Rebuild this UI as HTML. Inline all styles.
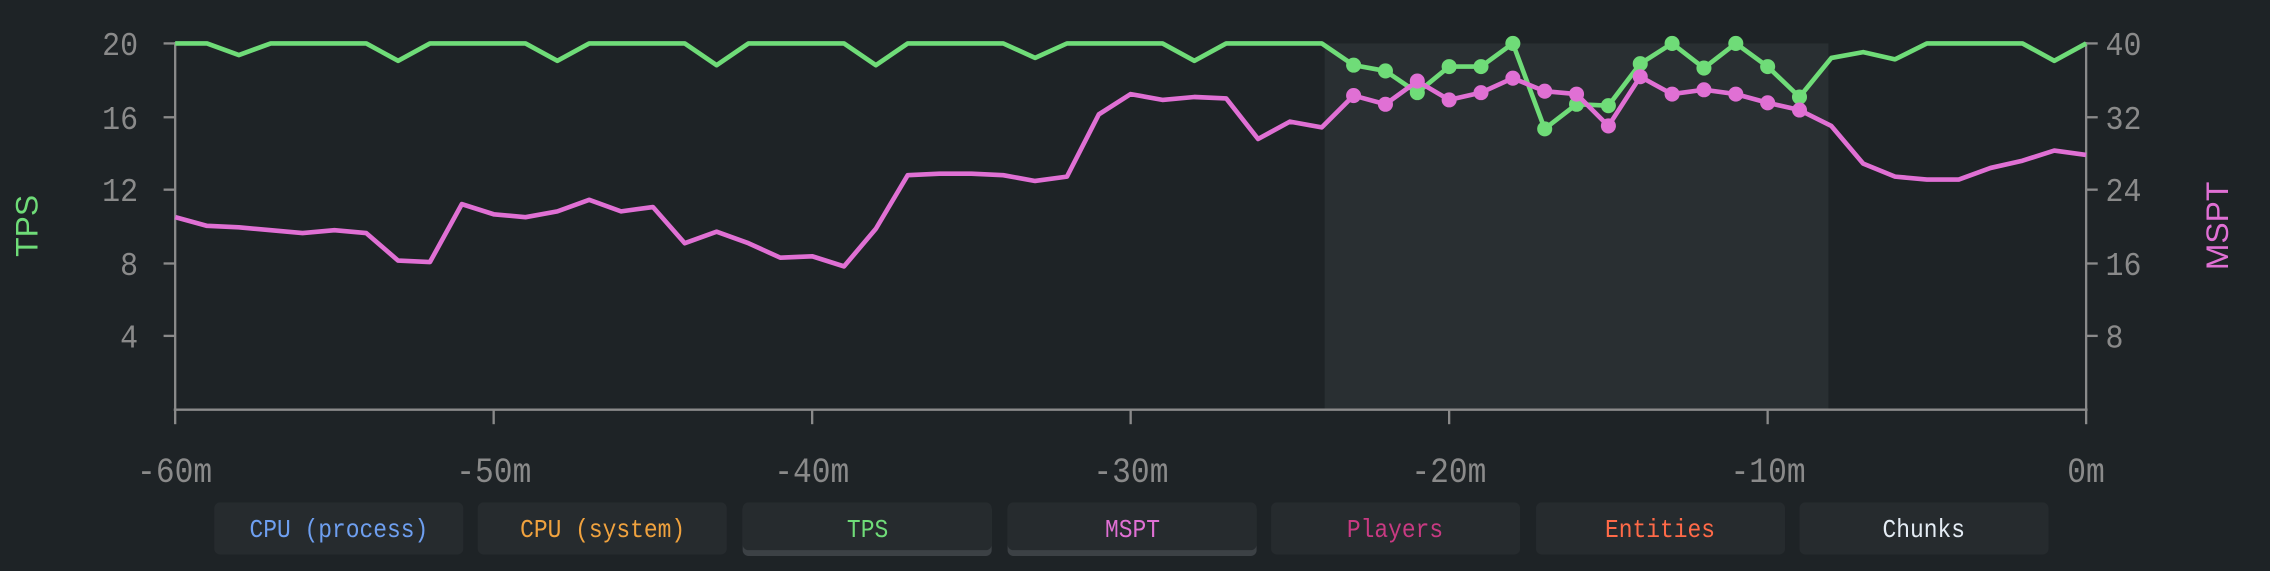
<!DOCTYPE html>
<html><head><meta charset="utf-8"><style>
html,body{margin:0;padding:0;background:#1e2326;}
svg{display:block}
text{font-family:"Liberation Mono","DejaVu Sans Mono",monospace;}
</style></head><body>
<svg id="s" width="2270" height="571" viewBox="0 0 1568 394.4" preserveAspectRatio="none" xmlns="http://www.w3.org/2000/svg">
<rect x="0" y="0" width="1568" height="395" fill="#1e2326"/>
<rect x="915" y="30" width="348" height="253" fill="#292f32"/>
<g stroke="#8a8a8a" stroke-width="1.6" fill="none">
<line x1="121" y1="29" x2="121" y2="283"/>
<line x1="1441" y1="29" x2="1441" y2="283"/>
<line x1="120" y1="283" x2="1442" y2="283"/>
<line x1="113" y1="30" x2="121" y2="30"/><line x1="113" y1="81" x2="121" y2="81"/><line x1="113" y1="131" x2="121" y2="131"/><line x1="113" y1="182" x2="121" y2="182"/><line x1="113" y1="232" x2="121" y2="232"/>
<line x1="1441" y1="30" x2="1449" y2="30"/><line x1="1441" y1="81" x2="1449" y2="81"/><line x1="1441" y1="131" x2="1449" y2="131"/><line x1="1441" y1="182" x2="1449" y2="182"/><line x1="1441" y1="232" x2="1449" y2="232"/>
<line x1="121" y1="283" x2="121" y2="293"/><line x1="341" y1="283" x2="341" y2="293"/><line x1="561" y1="283" x2="561" y2="293"/><line x1="781" y1="283" x2="781" y2="293"/><line x1="1001" y1="283" x2="1001" y2="293"/><line x1="1221" y1="283" x2="1221" y2="293"/><line x1="1441" y1="283" x2="1441" y2="293"/>
</g>
<g fill="#8a8a8a" font-size="23" text-anchor="end" transform="scale(0.9 1)">
<text x="106" y="38">20</text><text x="106" y="89">16</text><text x="106" y="139">12</text><text x="106" y="190">8</text><text x="106" y="240">4</text>
</g>
<g fill="#8a8a8a" font-size="23" text-anchor="start" transform="scale(0.9 1)">
<text x="1616" y="38">40</text><text x="1616" y="89">32</text><text x="1616" y="139">24</text><text x="1616" y="190">16</text><text x="1616" y="240">8</text>
</g>
<g fill="#8a8a8a" font-size="24" text-anchor="middle" transform="scale(0.9 1)">
<text x="134" y="333">-60m</text><text x="379" y="333">-50m</text><text x="623" y="333">-40m</text><text x="868" y="333">-30m</text><text x="1112" y="333">-20m</text><text x="1357" y="333">-10m</text><text x="1601" y="333">0m</text>
</g>
<text x="26" y="156" fill="#6fdc78" font-size="22" text-anchor="middle" transform="rotate(-90 26 156)" style="font-family:'Liberation Sans',sans-serif">TPS</text>
<text x="1539" y="156" fill="#e070d4" font-size="22" text-anchor="middle" transform="rotate(-90 1539 156)" style="font-family:'Liberation Sans',sans-serif">MSPT</text>
<g id="series"></g>
<g font-size="18" text-anchor="middle">
<rect x="148" y="347" width="172" height="36" rx="4" fill="#262b2e"/>
<rect x="330" y="347" width="172" height="36" rx="4" fill="#262b2e"/>
<rect x="513" y="348" width="172" height="36" rx="4" fill="#3c4145"/><rect x="513" y="347" width="172" height="33" rx="4" fill="#262b2e"/>
<rect x="696" y="348" width="172" height="36" rx="4" fill="#3c4145"/><rect x="696" y="347" width="172" height="33" rx="4" fill="#262b2e"/>
<rect x="878" y="347" width="172" height="36" rx="4" fill="#262b2e"/>
<rect x="1061" y="347" width="172" height="36" rx="4" fill="#262b2e"/>
<rect x="1243" y="347" width="172" height="36" rx="4" fill="#262b2e"/>
<g transform="scale(0.88 1)">
<text x="266" y="371" fill="#6e9ff0">CPU (process)</text>
<text x="473" y="371" fill="#f0a23e">CPU (system)</text>
<text x="681" y="371" fill="#6fdc78">TPS</text>
<text x="889" y="371" fill="#e070d4">MSPT</text>
<text x="1095" y="371" fill="#c83a82">Players</text>
<text x="1303" y="371" fill="#ff6a48">Entities</text>
<text x="1510" y="371" fill="#e4ecf4">Chunks</text>
</g>
</g>
</svg>
<script>
var g=[30,30,38,30,30,30,30,42,30,30,30,30,42,30,30,30,30,45,30,30,30,30,45,30,30,30,30,40,30,30,30,30,42,30,30,30,30,45,49,64,46,46,30,89,72,73,44,30,47,30,46,67,40,36,41,30,30,30,30,42,30];
var p=[150,156,157,159,161,159,161,180,181,141,148,150,146,138,146,143,168,160,168,178,177,184,158,121,120,120,121,125,122,79,65,69,67,68,96,84,88,66,72,56,69,64,54,63,65,87,53,65,62,65,71,76,87,113,122,124,124,116,111,104,107];
var ns="http://www.w3.org/2000/svg",S=document.getElementById("series");
function line(arr,col){var pts=arr.map(function(y,i){return (121+22*i)+","+y}).join(" ");
var l=document.createElementNS(ns,"polyline");l.setAttribute("points",pts);l.setAttribute("fill","none");l.setAttribute("stroke",col);l.setAttribute("stroke-width","3.2");l.setAttribute("stroke-linejoin","round");S.appendChild(l);
for(var i=37;i<=51;i++){var c=document.createElementNS(ns,"circle");c.setAttribute("cx",121+22*i);c.setAttribute("cy",arr[i]);c.setAttribute("r","5.2");c.setAttribute("fill",col);S.appendChild(c);}}
line(g,"#6fdc78");line(p,"#e070d4");
</script>
</body></html>
